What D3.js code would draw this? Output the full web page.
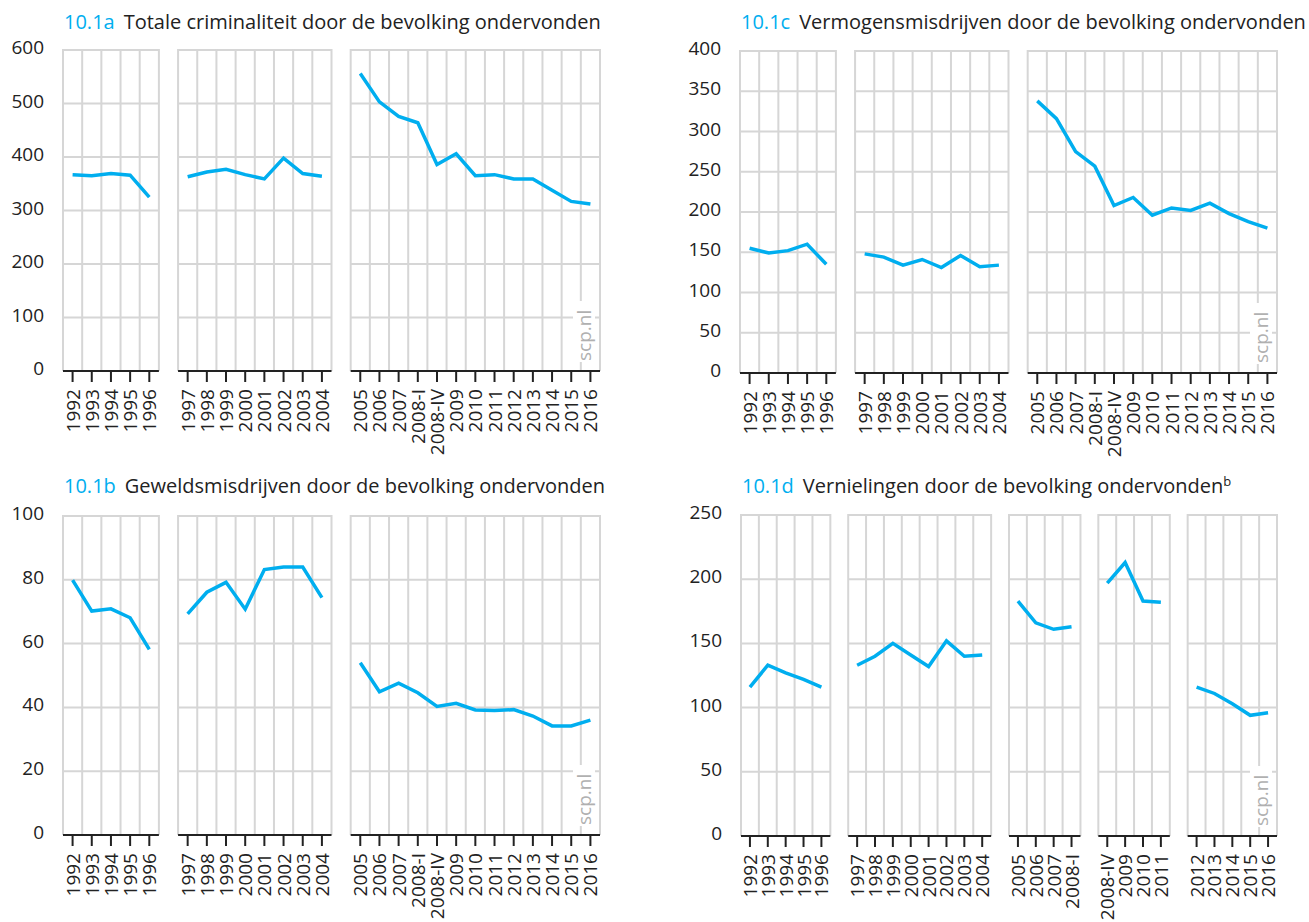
<!DOCTYPE html>
<html>
<head>
<meta charset="utf-8">
<script src="https://cdn.jsdelivr.net/npm/d3@7"></script>
<style>
  body { margin: 0; background: #fff; }
  svg { font-family: "Open Sans", sans-serif; }
</style>
</head>
<body>
<svg id="chart" width="1309" height="922"></svg>
<script>
// periods, split in the groups that are drawn as separate blocks
const periodsABC = [
	["1992", "1993", "1994", "1995", "1996"],
	["1997", "1998", "1999", "2000", "2001", "2002", "2003", "2004"],
	["2005", "2006", "2007", "2008-I", "2008-IV", "2009", "2010", "2011", "2012", "2013", "2014", "2015", "2016"],
];
const periodsD = [
	["1992", "1993", "1994", "1995", "1996"],
	["1997", "1998", "1999", "2000", "2001", "2002", "2003", "2004"],
	["2005", "2006", "2007", "2008-I"],
	["2008-IV", "2009", "2010", "2011"],
	["2012", "2013", "2014", "2015", "2016"],
];

// values per block
const totaleCriminaliteit = [
	[367, 365, 369, 366, 325],
	[363, 372, 377, 367, 359, 398, 369, 364],
	[556, 503, 476, 464, 386, 406, 365, 367, 359, 359, 338, 317, 312],
];
const geweldsmisdrijven = [
	[79.9, 70.2, 70.9, 68.1, 58.2],
	[69.3, 76.1, 79.2, 70.8, 83.2, 84.0, 84.0, 74.4],
	[54.0, 44.9, 47.6, 44.6, 40.3, 41.3, 39.2, 39.0, 39.3, 37.3, 34.2, 34.2, 36.0],
];
const vermogensmisdrijven = [
	[155, 149, 152, 160, 135],
	[148, 144, 134, 141, 131, 146, 132, 134],
	[338, 316, 275, 257, 208, 218, 196, 205, 202, 211, 198, 188, 180],
];
const vernielingen = [
	[116, 133, 127, 122, 116],
	[133, 140, 150, 141, 132, 152, 140, 141],
	[183, 166, 161, 163],
	[197, 213, 183, 182],
	[116, 111, 103, 94, 96],
];

const panels = [
	{ id: "10.1a", title: "Totale criminaliteit door de bevolking ondervonden", sup: "",
	  periods: periodsABC, values: totaleCriminaliteit, max: 600, step: 100,
	  x0: 63, x1: 600, top: 50, bottom: 371, titleY: 29 },
	{ id: "10.1c", title: "Vermogensmisdrijven door de bevolking ondervonden", sup: "",
	  periods: periodsABC, values: vermogensmisdrijven, max: 400, step: 50,
	  x0: 740, x1: 1277, top: 51, bottom: 373, titleY: 29 },
	{ id: "10.1b", title: "Geweldsmisdrijven door de bevolking ondervonden", sup: "",
	  periods: periodsABC, values: geweldsmisdrijven, max: 100, step: 20,
	  x0: 63, x1: 600, top: 516, bottom: 835, titleY: 493 },
	{ id: "10.1d", title: "Vernielingen door de bevolking ondervonden", sup: "b",
	  periods: periodsD, values: vernielingen, max: 250, step: 50,
	  x0: 741, x1: 1277, top: 515, bottom: 836, titleY: 493 },
];

const blue = "#00aeef";
const grid = "#d6d6d6";
const ink = "#222";

const svg = d3.select("svg#chart");

panels.forEach(drawPanel);

function drawPanel(p) {
	const g = svg.append("g");

	// band domain with one empty column between blocks
	let domain = [];
	p.periods.forEach((seg, i) => {
		if (i > 0) domain.push("gap" + i);
		domain = domain.concat(seg);
	});
	const x = d3.scaleBand().domain(domain).range([p.x0, p.x1]);
	const bw = x.bandwidth();
	const y = d3.scaleLinear().domain([0, p.max]).range([p.bottom, p.top]);
	const ticks = d3.range(0, p.max + 1, p.step);

	// title
	const title = g.append("text")
		.attr("x", p.x0 + 1)
		.attr("y", p.titleY)
		.attr("font-size", 20);
	title.append("tspan").attr("fill", blue).text(p.id);
	title.append("tspan").attr("fill", ink).attr("dx", 9).text(p.title);
	if (p.sup) {
		title.append("tspan").attr("fill", ink).attr("font-size", 13)
			.attr("dy", -7).text(p.sup);
	}

	// y labels
	g.selectAll("text.ylab")
		.data(ticks)
		.join("text")
		.classed("ylab", true)
		.attr("x", p.x0 - 19)
		.attr("y", (d) => y(d) - 3)
		.attr("text-anchor", "end")
		.attr("dominant-baseline", "central")
		.attr("font-size", 19)
		.attr("fill", ink)
		.text((d) => d);

	p.periods.forEach((seg, si) => {
		const sx0 = x(seg[0]);
		const sx1 = x(seg[seg.length - 1]) + bw;
		const sg = g.append("g");

		// horizontal grid
		sg.selectAll("line.h")
			.data(ticks.filter((d) => d > 0))
			.join("line")
			.attr("x1", sx0).attr("x2", sx1)
			.attr("y1", (d) => y(d)).attr("y2", (d) => y(d))
			.attr("stroke", grid).attr("stroke-width", 2);

		// vertical grid at column edges
		const edges = seg.map((k) => x(k)).concat([sx1]);
		sg.selectAll("line.v")
			.data(edges)
			.join("line")
			.attr("x1", (d) => d).attr("x2", (d) => d)
			.attr("y1", y(p.max) - 1).attr("y2", y(0))
			.attr("stroke", grid).attr("stroke-width", 2);

		// baseline and ticks
		sg.append("line")
			.attr("x1", sx0).attr("x2", sx1)
			.attr("y1", y(0)).attr("y2", y(0))
			.attr("stroke", ink).attr("stroke-width", 2);
		sg.selectAll("line.tick")
			.data(seg)
			.join("line")
			.attr("x1", (d) => x(d) + bw / 2).attr("x2", (d) => x(d) + bw / 2)
			.attr("y1", y(0)).attr("y2", y(0) + 11)
			.attr("stroke", ink).attr("stroke-width", 2);

		// rotated period labels
		sg.selectAll("text.xlab")
			.data(seg)
			.join("text")
			.attr("transform", (d) => `translate(${x(d) + bw / 2}, ${y(0) + 18}) rotate(-90)`)
			.attr("text-anchor", "end")
			.attr("dominant-baseline", "central")
			.attr("font-size", 19)
			.attr("fill", ink)
			.text((d) => d);
	});

	// watermark
	const wx = p.x1 - 16;
	g.append("rect")
		.attr("x", wx - 11).attr("y", p.bottom - 70)
		.attr("width", 22).attr("height", 61)
		.attr("fill", "#fff");
	g.append("text")
		.attr("transform", `translate(${wx}, ${p.bottom - 10}) rotate(-90)`)
		.attr("dominant-baseline", "central")
		.attr("font-size", 19)
		.attr("fill", "#b0b0b0")
		.text("scp.nl");

	// lines, one per block
	const line = d3.line()
		.x((d) => x(d.k) + bw / 2)
		.y((d) => y(d.v));
	p.periods.forEach((seg, si) => {
		const pts = seg.map((k, i) => ({ k: k, v: p.values[si][i] }));
		g.append("path")
			.attr("d", line(pts))
			.attr("fill", "none")
			.attr("stroke", blue)
			.attr("stroke-width", 3.5)
			.attr("stroke-linejoin", "miter");
	});
}
</script>
</body>
</html>
